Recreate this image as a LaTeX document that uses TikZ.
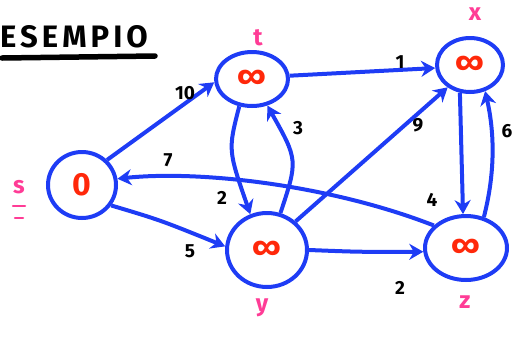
\documentclass[tikz,border=0pt]{standalone}
\usepackage{fontspec}
\setmainfont{Fira Sans}
\usetikzlibrary{shapes.geometric,arrows.meta}
\definecolor{penblue}{RGB}{30,60,245}
\definecolor{penred}{RGB}{255,40,10}
\definecolor{penpink}{RGB}{255,60,150}
\tikzset{
  vert/.style={draw=penblue, line width=4pt, ellipse, inner sep=0pt, font=\fontsize{32}{32}\selectfont\bfseries, text=penred},
  edge/.style={draw=penblue, line width=4pt, -{Stealth[length=14pt,width=16pt]}},
  wlab/.style={font=\fontsize{19}{19}\selectfont\bfseries, text=black},
  nlab/.style={font=\fontsize{24}{24}\selectfont\bfseries, text=penpink},
}
\begin{document}
\begin{tikzpicture}[x=1pt,y=-1pt]
\useasboundingbox (0,0) rectangle (525,338);
% title
\node[anchor=base west, font=\fontsize{31}{31}\selectfont\bfseries, inner sep=0pt] (title) at (0,47) {\addfontfeature{LetterSpace=13}ESEMPIO};
\draw[line width=5.5pt, line cap=round] (2,58) -- (155,56);
% vertices
\node[vert, minimum width=68pt, minimum height=66pt] (s) at (82,185) {0};
\node[vert, minimum width=72pt, minimum height=54pt] (t) at (252,79) {∞};
\node[vert, minimum width=66pt, minimum height=54pt] (x) at (470,65) {∞};
\node[vert, minimum width=80pt, minimum height=74pt] (y) at (267,250) {∞};
\node[vert, minimum width=82pt, minimum height=64pt] (z) at (466,248) {∞};
% vertex names
\node[nlab] (sl) at (19,187) {s};
\draw[penpink, line width=2.5pt, line cap=round] (13,206) -- (25,206) (15,218) -- (23,218);
\node[nlab] (tl) at (258,38) {t};
\node[nlab] (xl) at (475,14) {x};
\node[nlab] (yl) at (262,308) {y};
\node[nlab] (zl) at (465,302) {z};
% edges
\draw[edge] (s.45) -- (t.185);
\node[wlab] (w10) at (185,93) {10};
\draw[edge] (t.5) -- (x.185);
\node[wlab] (w1) at (400,62) {1};
\draw[edge] (t.245) .. controls (228,150) .. (y.115);
\node[wlab] (w2a) at (222,198) {2};
\draw[edge] (y.70) .. controls (298,160) .. (t.300);
\node[wlab] (w3) at (298,128) {3};
\draw[edge] (y.45) -- (x.225);
\node[wlab] (w9) at (418,125) {9};
\draw[edge] (x.250) -- (z.95);
\node[wlab] (w4) at (432,200) {4};
\draw[edge] (z.60) .. controls (496,170) and (494,130) .. (x.300);
\node[wlab] (w6) at (507,131) {6};
\draw[edge] (z.145) .. controls (330,185) and (200,170) .. (s.10);
\node[wlab] (w7) at (168,160) {7};
\draw[edge] (s.-35) .. controls (160,220) .. (y.175);
\node[wlab] (w5) at (190,251) {5};
\draw[edge] (y.0) .. controls (360,252) .. (z.185);
\node[wlab] (w2b) at (400,288) {2};
\end{tikzpicture}
\end{document}
